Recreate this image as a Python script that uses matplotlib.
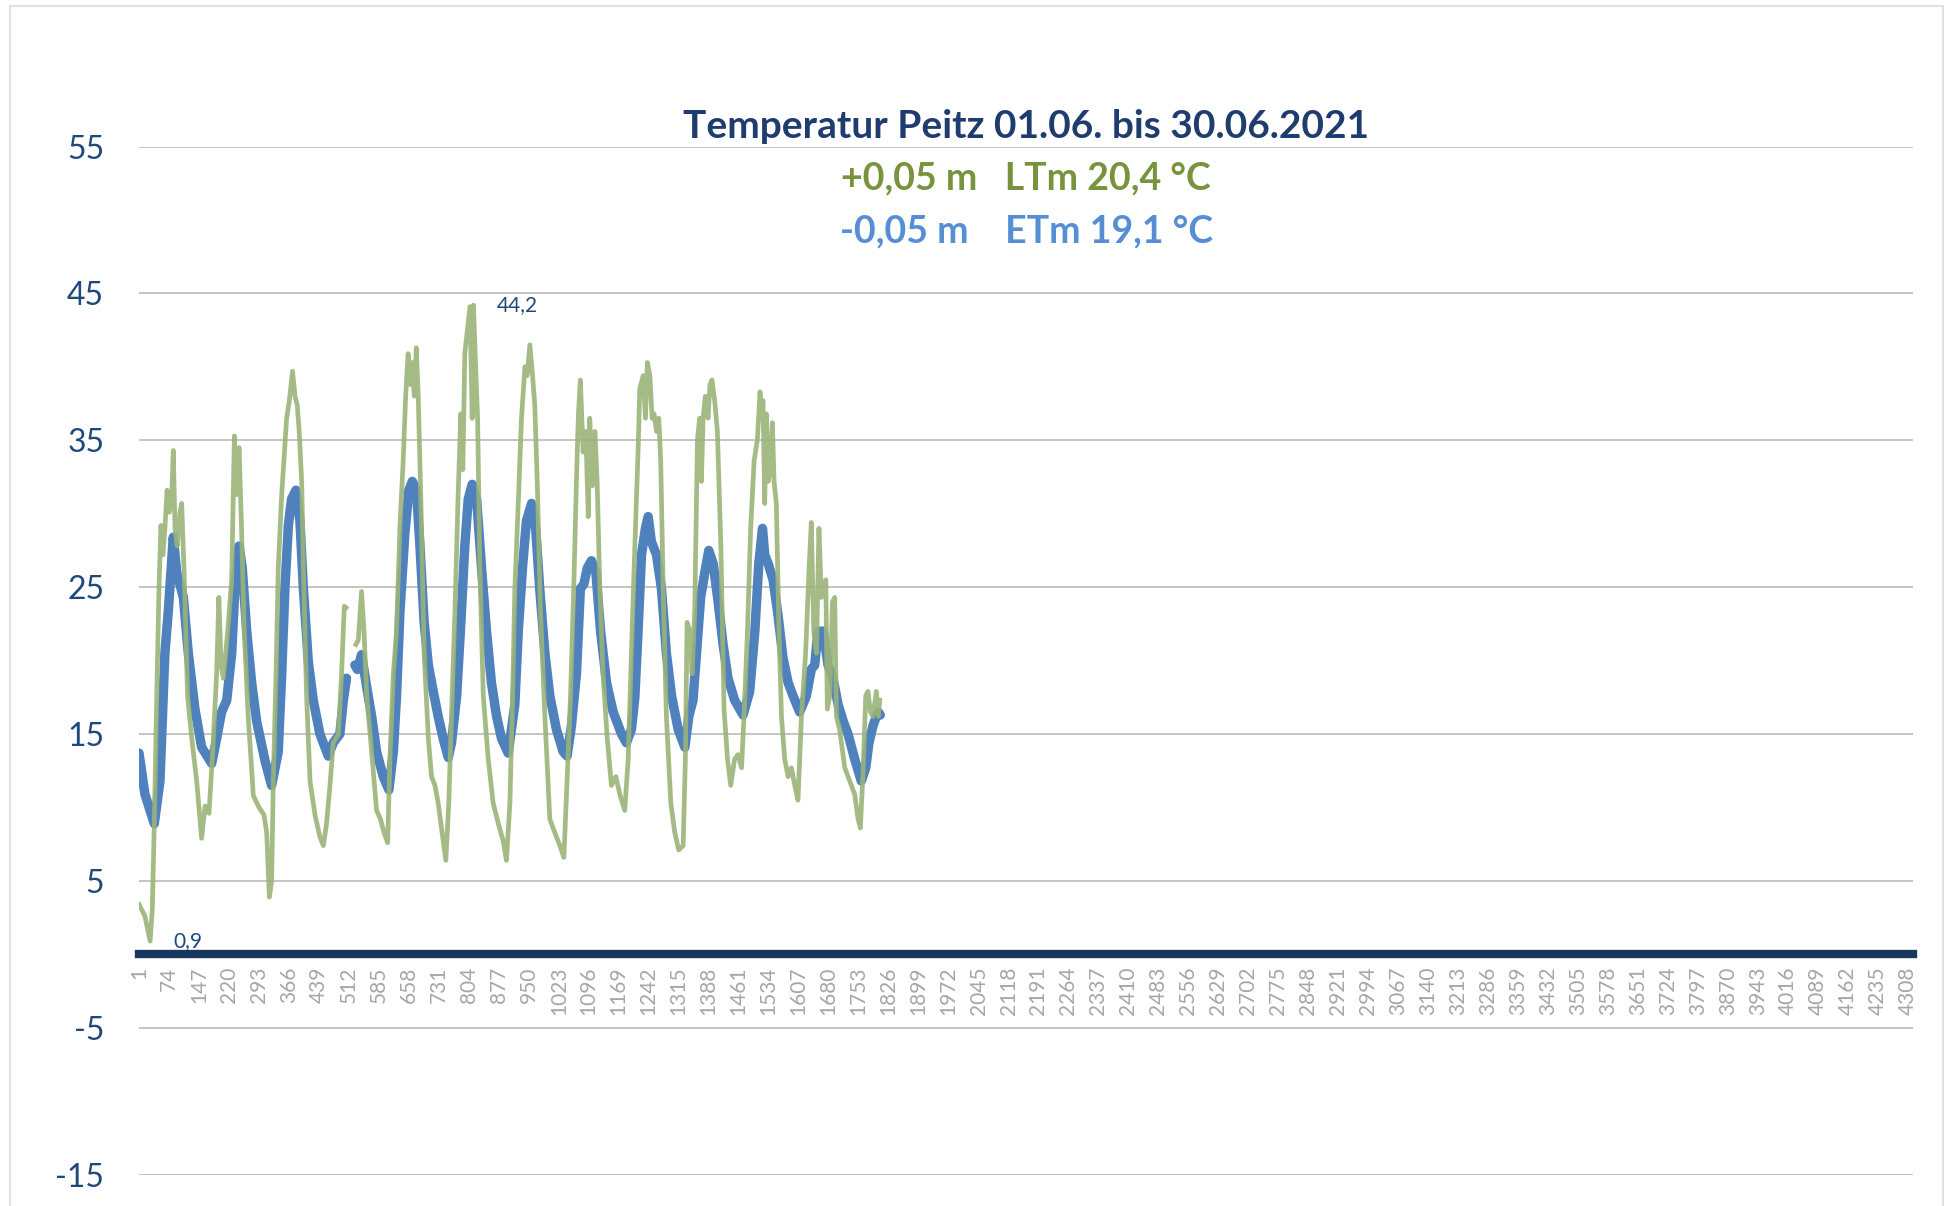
import numpy as np
import matplotlib.pyplot as plt
from matplotlib.patches import Rectangle

plt.rcParams['font.family'] = ['Lato', 'DejaVu Sans']
plt.rcParams['axes.unicode_minus'] = False

# Messreihe alle 10 min (6 Werte je Stunde), Stunden ab 01.06. 00:00
# Bodentemperatur -0,05 m (blau)
blau_h = [0, 2.4, 6.2, 8.5, 10.5, 11.9, 13.9, 15.3, 18.0, 20.0, 22.7, 25.4, 29.5, 31.5, 33.5, 35.6,
          37.6, 38.9, 40.6, 41.9, 43.7, 45.7, 47.7, 49.1, 51.1, 53.8, 56.5, 57.9, 59.2, 60.6, 61.9,
          63.7, 65.3, 66.7, 68.7, 70.7, 73.4, 76.8, 78.8, 81.5, 82.9, 84.2, 85.5, 87.6, 88.6, 90.3,
          92.4, 94.4, 96.4, 99.1, 101.4, 103.2, 104.5, 105.9, 107.9, 109.5, 110.9, 112.6, 114.0,
          115.7, 117.4, 119.4, 121.4, 123.4, 125.5, 126.8, 128.9, 130.6, 132.2, 133.6, 135.2, 137.0,
          139.0, 141.0, 143.0, 145.1, 147.1, 149.8, 152.5, 153.9, 155.6, 157.2, 159.3, 161.0, 162.6,
          164.7, 166.7, 169.4, 172.1, 173.7, 175.5, 177.5, 179.1, 180.5, 181.9, 183.6, 185.4, 187.3,
          189.7, 192.4, 195.8, 197.8, 199.8, 201.2, 202.5, 203.9, 205.5, 206.6, 207.9, 210.0, 212.0,
          214.0, 216.1, 218.8, 221.5, 223.1, 224.8, 226.2, 227.9, 229.6, 231.2, 233.0, 235.0, 237.0,
          239.0, 241.7, 245.1, 247.8, 249.9, 251.5, 253.0, 253.9, 255.3, 257.3, 259.3, 261.3, 263.4,
          265.4, 268.1, 270.8, 272.8, 274.2, 275.5, 277.6, 279.6, 281.6, 283.7, 285.7, 287.7, 290.4,
          293.1, 294.9, 296.2, 297.9, 299.9, 300.8]
blau_t = [13.7, 10.9, 8.9, 11.8, 20.5, 23.4, 28.4, 26.0, 24.3, 20.5, 16.7, 14.1, 13.0, 14.7, 16.5, 17.3,
          20.5, 24.9, 27.8, 26.3, 22.0, 18.5, 15.9, 14.8, 13.2, 11.5, 13.8, 19.1, 24.9, 29.2, 31.0,
          31.6, 29.5, 24.9, 19.9, 17.3, 15.0, 13.5, 14.4, 15.0, 17.3, 18.8, np.nan, 19.7, 19.4, 20.4,
          18.2, 16.2, 13.8, 12.1, 11.2, 13.8, 17.6, 23.4, 28.7, 31.6, 32.2, 31.6, 27.8,
          22.6, 19.7, 17.9, 16.2, 14.7, 13.4, 14.4, 17.6, 22.6, 27.8, 31.0, 32.0, 31.0,
          26.3, 22.0, 18.5, 16.2, 14.7, 13.7, 17.0, 22.0, 26.3, 29.5, 30.7, 28.9, 24.9,
          20.5, 17.6, 15.3, 13.8, 13.5, 15.6, 19.1, 24.9, 25.2, 26.3, 26.8, 26.0, 22.0,
          18.5, 16.5, 15.0, 14.4, 15.3, 17.5, 22.0, 27.2, 29.0, 29.8, 28.1, 27.2, 24.9,
          20.5, 17.6, 15.3, 14.1, 16.2, 17.3, 20.5, 24.3, 26.0, 27.5, 26.6, 24.0, 21.1,
          18.8, 17.3, 16.3, 17.9, 22.0, 26.6, 29.0, 27.2, 26.6, 25.5, 23.1, 20.2, 18.5,
          17.6, 16.5, 17.6, 19.4, 19.7, 22.0, 22.0, 19.7, 18.8, 17.0, 15.9, 15.0, 13.3,
          11.8, 12.7, 14.4, 15.6, 16.5, 16.3]

# Lufttemperatur +0,05 m (gruen)
gruen_h = [0, 2.4, 4.5, 5.4, 6.2, 7.2, 8.1, 8.9, 9.7, 10.5, 11.4, 12.3, 13.3, 13.9, 14.6, 15.5, 16.6,
           17.3, 18.4, 19.7, 21.4, 23.4, 25.4, 26.8, 28.4, 29.9, 31.5, 32.4, 33.3, 34.2, 36.0, 37.6,
           38.7, 39.5, 40.6, 41.6, 42.7, 44.3, 46.4, 48.7, 50.7, 51.8, 52.9, 53.8, 54.5, 55.6, 56.5,
           57.9, 58.8, 59.9, 61.0, 62.3, 63.3, 64.2, 65.0, 66.0, 66.9, 68.0, 69.4, 71.4, 73.4, 74.8,
           76.1, 77.5, 78.8, 80.9, 82.2, 83.3, 84.0, 85.5, 88.0, 89.0, 90.3, 91.3, 92.4, 94.4, 96.4,
           98.0, 99.4, 100.9, 101.8, 103.2, 104.5, 105.9, 107.2, 108.2, 109.2, 110.1, 110.9, 111.7,
           112.5, 113.3, 114.4, 115.7, 117.4, 118.7, 120.1, 121.4, 123.0, 124.5, 125.7, 126.8, 128.2,
           129.5, 130.6, 131.4, 132.2, 133.3, 134.3, 135.2, 135.7, 136.6, 137.4, 138.3, 139.7, 141.7,
           143.7, 145.8, 147.8, 149.1, 150.5, 151.6, 152.5, 153.9, 155.2, 156.6, 157.5, 158.6, 159.7,
           160.6, 161.6, 162.9, 164.7, 166.7, 168.7, 170.8, 172.4, 173.7, 175.1, 176.4, 177.5, 178.3,
           179.1, 180.2, 181.3, 182.3, 182.9, 184.0, 185.0, 185.9, 187.0, 188.3, 190.0, 191.7, 193.5,
           195.1, 197.1, 198.5, 199.8, 201.2, 202.5, 203.2, 204.6, 205.5, 206.3, 207.3, 208.2, 209.0,
           210.0, 210.9, 211.7, 212.7, 214.0, 215.8, 217.4, 219.0, 220.8, 221.7, 222.4, 223.5, 224.4,
           225.5, 226.6, 227.5, 228.2, 228.9, 229.8, 230.9, 231.7, 232.5, 233.6, 234.7, 236.1, 237.4,
           238.8, 240.1, 241.7, 243.1, 244.5, 245.5, 246.9, 248.2, 249.6, 250.9, 252.0, 252.6, 253.2,
           253.9, 254.6, 255.3, 256.2, 257.0, 257.7, 258.6, 259.7, 260.7, 262.0, 263.4, 264.7, 266.1,
           267.4, 268.8, 270.5, 271.9, 272.8, 273.8, 274.9, 275.9, 276.9, 277.8, 278.7, 279.3, 280.3,
           281.4, 282.3, 283.0, 284.3, 286.4, 288.4, 290.4, 291.8, 292.7, 293.8, 294.9, 295.8, 296.8,
           297.8, 299.2, 300.0, 300.6]
gruen_t = [3.4, 2.6, 0.9, 3.1, 8.9, 17.6, 24.9, 29.2, 27.2, 29.0, 31.6, 30.1, 31.3, 34.3, 29.0, 27.8, 30.1,
           30.7, 25.5, 17.6, 14.7, 11.8, 7.9, 10.1, 9.6, 13.8, 19.1, 24.3, 19.7, 18.8, 22.0, 25.5,
           35.3, 31.3, 34.5, 29.0, 22.0, 16.2, 10.8, 10.0, 9.5, 8.3, 3.9, 5.0, 11.8, 19.1, 26.3,
           31.3, 33.6, 36.5, 37.7, 39.7, 38.0, 37.4, 35.6, 32.2, 24.9, 17.6, 11.8, 9.5, 8.0, 7.4,
           8.9, 11.5, 14.4, 15.0, 19.1, 23.7, 23.6, np.nan, 21.1, 21.4, 24.7, 22.0, 17.6, 13.8, 9.8,
           9.2, 8.3, 7.6, 13.3, 19.1, 22.0, 29.2, 33.6, 38.0, 40.9, 38.8, 40.3, 38.0,
           41.3, 38.0, 30.7, 20.5, 14.7, 12.1, 11.5, 10.3, 8.3, 6.4, 10.3, 16.2, 23.4,
           31.3, 36.8, 33.0, 40.9, 42.6, 44.1, 36.5, 44.2, 40.0, 36.5, 26.3, 17.6, 13.3,
           10.3, 8.9, 7.7, 6.4, 10.3, 17.6, 24.9, 30.7, 36.5, 40.0, 39.4, 41.5, 39.4,
           37.4, 32.2, 23.4, 16.2, 9.2, 8.3, 7.4, 6.6, 11.8, 17.6, 24.9, 32.2, 36.8,
           39.1, 34.2, 35.6, 29.8, 36.5, 31.9, 35.6, 32.2, 24.9, 19.1, 14.7, 11.5, 12.1,
           10.9, 9.8, 13.3, 20.5, 27.8, 34.2, 38.5, 39.4, 36.5, 40.3, 39.4, 36.5, 36.8,
           35.6, 36.5, 33.6, 24.9, 16.2, 10.3, 8.3, 7.1, 7.4, 13.3, 22.6, 22.0, 19.1,
           23.4, 35.0, 36.5, 32.2, 36.5, 38.0, 36.5, 38.8, 39.1, 37.7, 35.6, 27.8, 16.7,
           13.3, 11.5, 13.3, 13.6, 12.7, 16.2, 22.0, 29.0, 33.6, 35.0, 38.3, 36.5, 37.7,
           30.7, 36.8, 32.2, 33.0, 36.2, 32.2, 30.7, 22.0, 16.2, 13.3, 12.1, 12.7, 11.5,
           10.5, 16.2, 20.5, 26.3, 29.4, 22.0, 20.5, 29.0, 24.3, 24.9, 25.5, 16.7, 17.6,
           24.0, 24.3, 16.2, 15.3, 12.7, 11.8, 10.9, 9.2, 8.6, 12.4, 17.6, 17.9, 16.5,
           16.2, 17.9, 16.2, 17.3]

anzahl = 4320  # 30 Tage x 144 Messwerte
tick_pos = np.arange(1, anzahl + 1, 73)
titel = "Temperatur Peitz 01.06. bis 30.06.2021"
zeile_luft = "+0,05 m   LTm 20,4 °C"
zeile_boden = "-0,05 m    ETm 19,1 °C"

x_blau = 1 + 6 * np.array(blau_h)
x_gruen = 1 + 6 * np.array(gruen_h)
t_blau = np.array(blau_t)
t_gruen = np.array(gruen_t)

fig = plt.figure(figsize=(19.47, 12.06), dpi=100)
ax = fig.add_axes([0.0714, 0.026, 0.9111, 0.8525])

ax.plot(x_blau, t_blau, color='#4F81BD', lw=6.8, solid_capstyle='round', zorder=3)
ax.plot(x_gruen, t_gruen, color='#9BB478', lw=3.4, alpha=0.9, zorder=4)

# Datenbeschriftung Max/Min
i_max = np.nanargmax(t_gruen)
i_min = np.nanargmin(t_gruen)
for i in (i_max, i_min):
    ax.annotate(f"{t_gruen[i]:.1f}".replace('.', ','), xy=(x_gruen[i], t_gruen[i]),
                xytext=(17, 0), textcoords='offset points', ha='left', va='center',
                fontsize=15, color='#1F497D', zorder=6)

ax.set_xlim(1, anzahl)
ax.set_ylim(-15, 55)
ax.set_yticks(np.arange(-15, 56, 10))
ax.set_xticks(tick_pos)
ax.set_xticklabels([str(t) for t in tick_pos])

ax.yaxis.grid(True, color='#BFBFBF', lw=1.3)
ax.set_axisbelow(True)
for s in ['top', 'right', 'left']:
    ax.spines[s].set_visible(False)
ax.spines['bottom'].set_position(('data', 0))
ax.spines['bottom'].set_color('#17375E')
ax.spines['bottom'].set_linewidth(6)
ax.spines['bottom'].set_zorder(5)

ax.tick_params(axis='x', length=0, pad=9, labelrotation=90, labelsize=15, colors='#A6A6A6')
ax.tick_params(axis='y', length=0, pad=25, labelsize=23, labelcolor='#1F497D')

cx = 0.527
fig.text(cx, 0.895, titel, ha='center', va='center', fontsize=28, fontweight='bold', color='#1F3C6E')
fig.text(cx, 0.852, zeile_luft, ha='center', va='center', fontsize=27, fontweight='bold', color='#77933C')
fig.text(cx, 0.808, zeile_boden, ha='center', va='center', fontsize=27, fontweight='bold', color='#558ED5')

fig.patches.append(Rectangle((0.005, -0.01), 0.993, 1.005, transform=fig.transFigure,
                             fill=False, edgecolor='#D9E2EE', lw=1.5))

fig.savefig('out.png', dpi=100)
